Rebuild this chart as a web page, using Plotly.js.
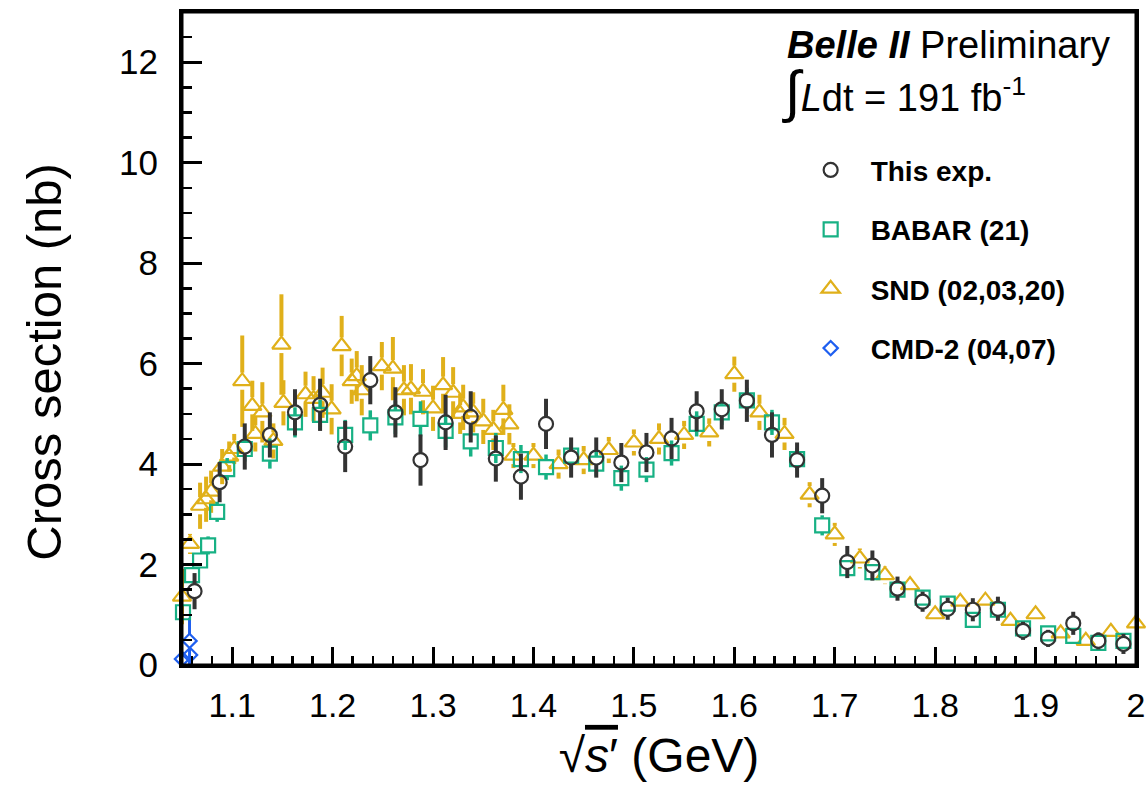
<!DOCTYPE html>
<html>
<head>
<meta charset="utf-8">
<script src="https://cdn.plot.ly/plotly-3.0.1.min.js"></script>
<style>html,body{margin:0;padding:0;background:#fff;}#chart{width:1148px;height:786px;}</style>
</head>
<body>
<div id="chart"></div>
<script>
// ---- Data ----
const thisX = [1.0625,1.0875,1.1125,1.1375,1.1625,1.1875,1.2125,1.2375,1.2625,1.2875,1.3125,1.3375,1.3625,1.3875,1.4125,1.4375,1.4625,1.4875,1.5125,1.5375,1.5625,1.5875,1.6125,1.6375,1.6625,1.6875,1.7125,1.7375,1.7625,1.7875,1.8125,1.8375,1.8625,1.8875,1.9125,1.9375,1.9625,1.9875];
const thisY = [1.47,3.64,4.35,4.58,5.03,5.18,4.35,5.67,5.03,4.08,4.83,4.94,4.11,3.75,4.80,4.13,4.13,4.03,4.23,4.51,5.05,5.09,5.26,4.58,4.08,3.37,2.05,1.98,1.52,1.26,1.12,1.10,1.12,0.68,0.53,0.83,0.48,0.42];
const thisErr = [0.36,0.40,0.46,0.45,0.46,0.52,0.51,0.48,0.50,0.51,0.55,0.51,0.46,0.46,0.50,0.40,0.40,0.39,0.39,0.41,0.40,0.40,0.42,0.45,0.35,0.35,0.32,0.30,0.24,0.20,0.22,0.23,0.24,0.18,0.17,0.23,0.17,0.20];

const babarX = [1.051,1.060,1.068,1.076,1.085,1.095,1.1125,1.1375,1.1625,1.1875,1.2125,1.2375,1.2625,1.2875,1.3125,1.3375,1.3625,1.3875,1.4125,1.4375,1.4625,1.4875,1.5125,1.5375,1.5625,1.5875,1.6125,1.6375,1.6625,1.6875,1.7125,1.7375,1.7625,1.7875,1.8125,1.8375,1.8625,1.8875,1.9125,1.9375,1.9625,1.9875];
const babarY = [1.05,1.79,2.08,2.38,3.05,3.90,4.30,4.21,4.83,4.98,4.58,4.77,4.93,4.90,4.66,4.45,4.32,4.10,3.94,4.17,4.01,3.72,3.89,4.22,4.80,5.03,5.27,4.83,4.10,2.78,1.93,1.85,1.50,1.34,1.22,0.90,1.10,0.73,0.63,0.58,0.44,0.48];
const babarErr = [0.15,0.15,0.15,0.18,0.20,0.22,0.25,0.30,0.30,0.30,0.30,0.30,0.33,0.35,0.33,0.30,0.30,0.28,0.25,0.25,0.25,0.25,0.25,0.25,0.25,0.25,0.25,0.25,0.22,0.20,0.15,0.15,0.13,0.12,0.12,0.12,0.12,0.10,0.10,0.10,0.10,0.10];

const sndX = [1.050,1.058,1.068,1.074,1.079,1.090,1.097,1.102,1.110,1.120,1.123,1.130,1.141,1.149,1.151,1.173,1.181,1.190,1.199,1.209,1.219,1.224,1.229,1.249,1.260,1.271,1.278,1.290,1.300,1.310,1.320,1.327,1.330,1.340,1.350,1.360,1.370,1.376,1.380,1.400,1.425,1.450,1.475,1.500,1.525,1.550,1.575,1.600,1.625,1.650,1.675,1.700,1.725,1.750,1.775,1.800,1.825,1.850,1.875,1.900,1.925,1.950,1.975,2.000];
const sndY = [1.36,2.41,3.17,3.30,3.45,3.95,4.15,4.30,5.65,5.16,4.60,5.03,4.46,6.38,5.22,5.39,5.30,5.42,5.09,6.35,5.65,5.75,5.47,5.95,5.90,5.47,5.49,5.44,5.11,5.57,5.42,5.00,5.13,5.03,4.85,4.68,5.08,4.79,4.17,4.17,4.00,4.08,4.28,4.43,4.50,4.58,4.63,5.79,5.03,4.60,3.39,2.60,2.12,1.79,1.59,1.01,1.26,1.28,0.88,1.01,0.63,0.48,0.66,0.83];
const sndErr = [0.55,0.20,0.46,0.45,0.42,0.35,0.30,0.30,0.91,0.50,0.35,0.60,0.35,1.00,0.45,0.45,0.45,0.50,0.50,0.60,0.45,0.50,0.50,0.48,0.63,0.50,0.50,0.45,0.45,0.56,0.51,0.40,0.45,0.40,0.45,0.40,0.50,0.40,0.25,0.25,0.29,0.28,0.26,0.26,0.31,0.28,0.28,0.35,0.35,0.32,0.25,0.23,0.20,0.18,0.17,0.15,0.15,0.15,0.12,0.12,0.10,0.10,0.10,0.10];

const cmdX = [1.050,1.0575,1.058];
const cmdY = [0.12,0.48,0.20];
const cmdErr = [0.05,0.46,0.10];

const seriesNames = ['This exp.','BABAR (21)','SND (02,03,20)','CMD-2 (04,07)'];

// ---- Styling ----
const C_BLACK = '#333333', C_GREEN = '#17b184', C_GOLD = '#e0b01a', C_BLUE = '#1f5ff0';
const FONT = 'Liberation Sans, Arial, Helvetica, sans-serif';

// error bars with a gap around the marker (ROOT style)
function errTraces(x, y, e, gap, color, thick) {
  const up = {
    type:'scatter', mode:'markers', x:x, y:y.map(v=>v+gap),
    marker:{opacity:0, size:2}, showlegend:false, hoverinfo:'skip', cliponaxis:false,
    error_y:{type:'data', symmetric:false, array:e.map(v=>Math.max(v-gap,0)), arrayminus:e.map(()=>0), color:color, thickness:thick, width:0}
  };
  const dn = {
    type:'scatter', mode:'markers', x:x, y:y.map(v=>v-gap),
    marker:{opacity:0, size:2}, showlegend:false, hoverinfo:'skip', cliponaxis:false,
    error_y:{type:'data', symmetric:false, array:e.map(()=>0), arrayminus:e.map(v=>Math.max(v-gap,0)), color:color, thickness:thick, width:0}
  };
  return [up, dn];
}
function markerTrace(x, y, name, symbol, size, color, rank) {
  return {type:'scatter', mode:'markers', x:x, y:y, name:'<b>'+name+'</b>',
    legendgroup:name, legendrank:rank, cliponaxis:false,
    marker:{symbol:symbol, size:size, color:color, line:{color:color, width:2.2}}};
}

const traces = [
  ...errTraces(cmdX, cmdY, cmdErr, 0.13, C_BLUE, 3),
  markerTrace(cmdX, cmdY, seriesNames[3], 'diamond-open', 11, C_BLUE, 4),
  ...errTraces(sndX, sndY, sndErr, 0.17, C_GOLD, 4),
  markerTrace(sndX, sndY, seriesNames[2], 'triangle-up-open', 16, C_GOLD, 3),
  ...errTraces(babarX, babarY, babarErr, 0.15, C_GREEN, 3.5),
  markerTrace(babarX, babarY, seriesNames[1], 'square-open', 14, C_GREEN, 2),
  ...errTraces(thisX, thisY, thisErr, 0.13, C_BLACK, 4),
  markerTrace(thisX, thisY, seriesNames[0], 'circle-open', 14, C_BLACK, 1)
];

const layout = {
  width:1148, height:786,
  margin:{l:182, r:12, t:12, b:121},
  paper_bgcolor:'#ffffff', plot_bgcolor:'#ffffff',
  font:{family:FONT, color:'#000'},
  showlegend:true,
  legend:{x:0.638, y:0.796, xanchor:'left', yanchor:'top', font:{family:FONT, size:28, color:'#000'},
    bgcolor:'rgba(0,0,0,0)', tracegroupgap:20, itemwidth:70},
  xaxis:{range:[1.05,2.0], tickmode:'linear', tick0:1.1, dtick:0.1, layer:'above traces',
    ticks:'inside', ticklen:18, tickwidth:3, tickcolor:'#000000',
    minor:{tick0:1.0, dtick:0.02, ticks:'inside', ticklen:9, tickwidth:2.5, tickcolor:'#000000'},
    showline:true, linewidth:3, linecolor:'#000000', mirror:true, showgrid:false, zeroline:false,
    tickfont:{family:FONT, size:34, color:'#000'}, ticklabelstandoff:8,
    title:{text:'√<span style="text-decoration:overline"><i>s</i>′</span> (GeV)', font:{family:FONT, size:48, color:'#000'}, standoff:16}
  },
  yaxis:{range:[0,13], tickmode:'linear', tick0:0, dtick:2, layer:'above traces',
    ticks:'inside', ticklen:20, tickwidth:3, tickcolor:'#000000',
    minor:{tick0:0, dtick:0.5, ticks:'inside', ticklen:10, tickwidth:2.5, tickcolor:'#000000'},
    showline:true, linewidth:3, linecolor:'#000000', mirror:true, showgrid:false, zeroline:false,
    tickfont:{family:FONT, size:35, color:'#000'}, ticklabelstandoff:14
  },
  shapes:[
    {type:'rect', xref:'paper', yref:'paper', x0:0, x1:1, y0:0, y1:1, layer:'above',
     line:{color:'#000000', width:3}, fillcolor:'rgba(0,0,0,0)'}
  ],
  annotations:[
    {xref:'paper', yref:'paper', x:-0.145, y:0.464, xanchor:'center', yanchor:'middle', showarrow:false, textangle:-90,
     text:'Cross section (nb)', font:{family:FONT, size:49, color:'#000'}},
    {xref:'paper', yref:'paper', x:0.632, y:0.95, xanchor:'left', yanchor:'middle', showarrow:false,
     text:'<b><i>Belle II</i></b> Preliminary', font:{family:FONT, size:38, color:'#000'}},
    {xref:'paper', yref:'paper', x:0.627, y:0.878, xanchor:'left', yanchor:'middle', showarrow:false,
     text:'<span style="font-size:57px">∫</span><i>L</i>dt = 191 fb<sup>-1</sup>', font:{family:FONT, size:38, color:'#000'}}
  ]
};

Plotly.newPlot('chart', traces, layout, {staticPlot:true, displayModeBar:false});
</script>
</body>
</html>
